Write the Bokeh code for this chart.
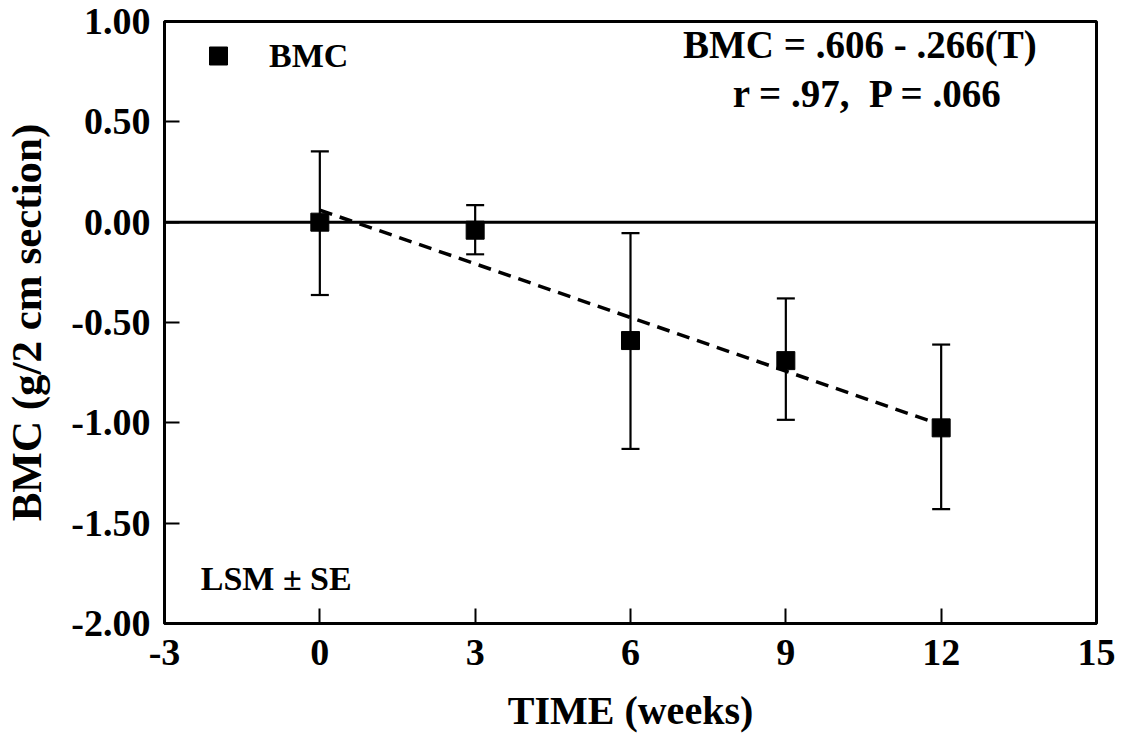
from bokeh.plotting import figure
from bokeh.models import (ColumnDataSource, Whisker, TeeHead, Span, Label,
                          Legend, LegendItem, FixedTicker, Range1d)
from bokeh.embed import file_html
from bokeh.resources import INLINE

# ---- data ----
weeks = [0, 3, 6, 9, 12]
bmc = [0.00, -0.04, -0.59, -0.69, -1.025]
se_upper = [0.353, 0.085, -0.055, -0.38, -0.61]
se_lower = [-0.363, -0.16, -1.13, -0.985, -1.43]

fit_x = [0, 12]
fit_y = [0.06, -1.01]

zero_level = 0.0

x_ticks = [-3, 0, 3, 6, 9, 12, 15]
x_tick_labels = {-3: "-3", 0: "0", 3: "3", 6: "6", 9: "9", 12: "12", 15: "15"}
y_ticks = [1.0, 0.5, 0.0, -0.5, -1.0, -1.5, -2.0]
y_tick_labels = {1.0: "1.00", 0.5: "0.50", 0.0: "0.00", -0.5: "-0.50",
                 -1.0: "-1.00", -1.5: "-1.50", -2.0: "-2.00"}

eq_lines = ["BMC = .606 - .266(T)", "r = .97,\u00a0 P = .066"]
eq_x = [10.43, 10.59]
eq_y = [0.885, 0.642]

note_text = "LSM \u00b1 SE"
note_x = -2.30
note_y = -1.775

FONT = "Liberation Serif"

p = figure(frame_width=932, frame_height=602,
           min_border_left=161, min_border_right=25,
           min_border_top=21, min_border_bottom=96,
           x_range=Range1d(-3, 15), y_range=Range1d(-2.0, 1.0),
           output_backend="svg", toolbar_location=None,
           background_fill_color="white", border_fill_color="white")

p.xgrid.visible = False
p.ygrid.visible = False
p.outline_line_color = "black"
p.outline_line_width = 3

for ax in (p.xaxis[0], p.yaxis[0]):
    ax.axis_line_width = 3
    ax.axis_line_color = "black"
    ax.major_tick_in = 15
    ax.major_tick_out = 0
    ax.major_tick_line_width = 2
    ax.minor_tick_in = 0
    ax.minor_tick_out = 0
    ax.major_label_text_font = FONT
    ax.major_label_text_font_style = "bold"
    ax.major_label_text_font_size = "38px"
    ax.major_label_text_color = "black"
    ax.axis_label_text_font = FONT
    ax.axis_label_text_font_style = "bold"
    ax.axis_label_text_color = "black"

p.xaxis.ticker = FixedTicker(ticks=x_ticks)
p.yaxis.ticker = FixedTicker(ticks=y_ticks)
p.xaxis.major_label_overrides = x_tick_labels
p.yaxis.major_label_overrides = y_tick_labels
p.xaxis.axis_label = "TIME (weeks)"
p.yaxis.axis_label = "BMC (g/2 cm section)"
p.xaxis.axis_label_text_font_size = "40px"
p.yaxis.axis_label_text_font_size = "43px"
p.xaxis.major_label_standoff = 16
p.xaxis.axis_label_standoff = 20
p.yaxis.major_label_standoff = 14
p.yaxis.axis_label_standoff = 18

# zero reference line
p.add_layout(Span(location=zero_level, dimension="width",
                  line_color="black", line_width=3))

# regression line
p.line(fit_x, fit_y, line_color="black", line_width=3.5, line_dash="13 8")

# error bars
src = ColumnDataSource(dict(x=weeks, y=bmc, upper=se_upper, lower=se_lower))
whisk = Whisker(base="x", upper="upper", lower="lower", source=src,
                line_color="black", line_width=2.2,
                upper_head=TeeHead(size=18, line_width=2.2, line_color="black"),
                lower_head=TeeHead(size=18, line_width=2.2, line_color="black"))
p.add_layout(whisk)

pts = p.scatter("x", "y", source=src, marker="square", size=18,
                fill_color="black", line_color="black")

legend = Legend(items=[LegendItem(label="BMC", renderers=[pts])],
                location="top_left", margin=0, padding=12,
                glyph_width=84, glyph_height=45, label_standoff=9,
                label_text_font=FONT, label_text_font_style="bold",
                label_text_font_size="34px", label_text_color="black",
                border_line_alpha=0, background_fill_alpha=0)
p.add_layout(legend)

for txt, xx, yy in zip(eq_lines, eq_x, eq_y):
    p.add_layout(Label(x=xx, y=yy, text=txt, text_align="center",
                       text_baseline="alphabetic", text_font=FONT,
                       text_font_style="bold", text_font_size="39px",
                       text_color="black"))

p.add_layout(Label(x=note_x, y=note_y, text=note_text, text_align="left",
                   text_baseline="alphabetic", text_font=FONT,
                   text_font_style="bold", text_font_size="34px",
                   text_color="black"))

open("out.html", "w").write(file_html(p, INLINE))
